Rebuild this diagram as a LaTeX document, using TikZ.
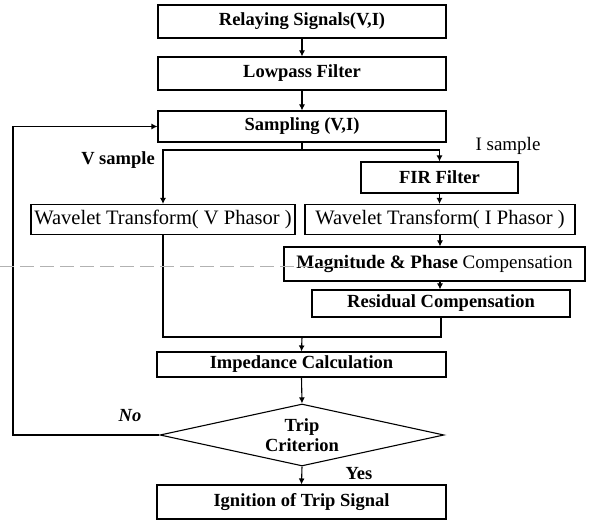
\documentclass[tikz,border=0pt]{standalone}
\usepackage{fontspec}
\setmainfont{Liberation Serif}
\usetikzlibrary{arrows.meta,shapes.geometric}
\tikzset{
  box/.style={draw, line width=1.1pt, rectangle, inner sep=0pt, anchor=center},
  bt/.style={font=\fontsize{18.5}{20}\selectfont\bfseries},
  rt/.style={font=\fontsize{20.5}{22}\selectfont},
  link/.style={line width=1.1pt},
  flow/.style={line width=1.1pt, -{Latex[length=6pt,width=6pt]}},
  lbl/.style={inner sep=0pt, anchor=center},
}
\begin{document}
\begin{tikzpicture}[x=1pt,y=-1pt]
\useasboundingbox (0,0) rectangle (595,521);

% main chain
\node[box,bt,minimum width=288pt,minimum height=33pt] (relay) at (302,21.5) {Relaying Signals(V,I)};
\node[box,bt,minimum width=288pt,minimum height=33pt] (lowpass) at (302,73.5) {Lowpass Filter};
\node[box,bt,minimum width=288pt,minimum height=31pt] (sampling) at (302,126.5) {Sampling (V,I)};

% current branch
\node[box,bt,minimum width=157pt,minimum height=31pt] (fir) at (439.5,177.5) {FIR Filter};
\node[box,rt,minimum width=270pt,minimum height=30pt] (wavi) at (440,219.5) {Wavelet Transform( I Phasor )};
\node[box,minimum width=301pt,minimum height=34pt] (mag) at (434.5,264)
  {\fontsize{19}{21}\selectfont\textbf{Magnitude \& Phase} Compensation};
\node[box,bt,minimum width=258pt,minimum height=27pt] (resid) at (441,303.5) {Residual Compensation};

% voltage branch
\node[box,rt,minimum width=264pt,minimum height=30pt] (wavv) at (163,219.5) {Wavelet Transform( V Phasor )};

% decision part
\node[box,bt,minimum width=289pt,minimum height=25pt] (imp) at (301.5,364.5) {Impedance Calculation};
\node[draw,line width=1.1pt,diamond,aspect=4.58,minimum width=284pt,minimum height=62pt,inner sep=0pt,
      align=center,font=\fontsize{18.5}{20}\selectfont\bfseries] (trip) at (302,435) {Trip\\Criterion};
\node[box,bt,minimum width=289pt,minimum height=34pt] (ignite) at (301.5,502) {Ignition of Trip Signal};

% branch points
\coordinate (split) at (302,150);
\coordinate (join) at (302,337);
\coordinate (loop) at (13,435);

% connectors
\draw[flow] (relay.south) -- (lowpass.north);
\draw[flow] (lowpass.south) -- (sampling.north);
\draw[link] (sampling.south) -- (split);
\draw[flow] (split) -| (wavv.north);
\draw[flow] (split) -| (fir.north);
\draw[flow] (fir.south) -- (fir.south |- wavi.north);
\draw[flow] (wavi.south) -- (wavi.south |- mag.north);
\draw[flow] (wavi.south |- mag.south) -- (wavi.south |- resid.north);
\draw[link] (wavv.south) -- (wavv.south |- join) -- (join);
\draw[link] (resid.south) -- (resid.south |- join) -- (join);
\draw[flow] (join) -- (imp.north);
\draw[flow] (imp.south) -- (trip.north);
\draw[flow] (trip.south) -- (ignite.north);
\draw[flow] (trip.west) -- (loop) |- (sampling.west);

% faint dashed rule across the middle
\draw[gray!60, line width=0.5pt, dash pattern=on 14pt off 6pt] (0,266) -- (350,266);

% labels
\node[lbl,bt] (vs) at (118,160) {V sample};
\node[lbl,font=\fontsize{19}{21}\selectfont] (is) at (508,146) {I sample};
\node[lbl,font=\fontsize{18.5}{20}\selectfont\bfseries\itshape] (no) at (130,416) {No};
\node[lbl,bt] (yes) at (359,474) {Yes};
\end{tikzpicture}
\end{document}
